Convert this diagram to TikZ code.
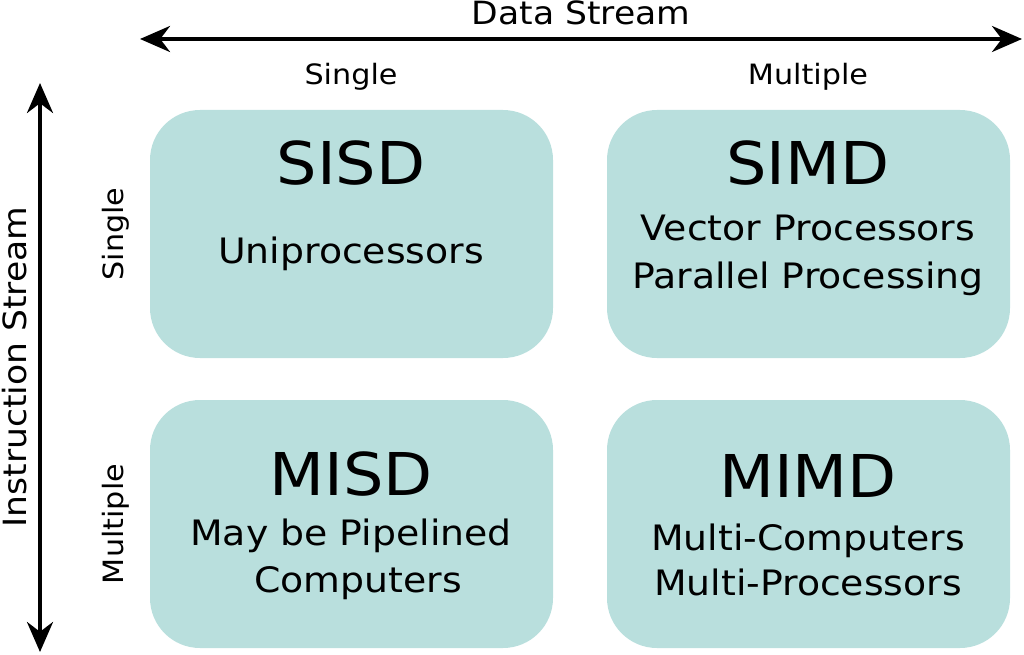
\documentclass[tikz,border=0pt]{standalone}
\usepackage{fontspec}
\setmainfont{DejaVu Sans}[FakeStretch=1.08]
\usetikzlibrary{arrows.meta}
\definecolor{boxfill}{RGB}{185,223,221}
\tikzset{
  quad/.style={fill=boxfill, draw=none, rounded corners=50pt},
  axis/.style={line width=4pt, {Stealth[length=30pt,width=26pt]}-{Stealth[length=30pt,width=26pt]}},
  axlabel/.style={font=\fontsize{32}{38}\selectfont, inner sep=0pt, anchor=base},
  sidelabel/.style={font=\fontsize{28}{33}\selectfont, inner sep=0pt, anchor=base},
  title/.style={font=\fontsize{59}{70}\selectfont, inner sep=0pt, anchor=base},
  desc/.style={font=\fontsize{35}{40}\selectfont, inner sep=0pt, anchor=base},
}
\begin{document}
\begin{tikzpicture}[x=1pt,y=-1pt]
\useasboundingbox (0,0) rectangle (1024,655);
% boxes
\fill[quad] (150,110) rectangle (553,358);
\fill[quad] (607,110) rectangle (1010,358);
\fill[quad] (150,400) rectangle (553,648);
\fill[quad] (607,400) rectangle (1010,648);
% axes
\coordinate (dl) at (140,39);
\coordinate (dr) at (1022,39);
\coordinate (it) at (40,83);
\coordinate (ib) at (40,652);
\draw[axis] (dl) -- (dr);
\draw[axis] (it) -- (ib);
\node[axlabel] (ds) at (581,25) {Data Stream};
\node[axlabel, rotate=90] (is) at (26,367) {Instruction Stream};
\node[sidelabel] (ts) at (351,85) {Single};
\node[sidelabel] (tm) at (808,85) {Multiple};
\node[sidelabel, rotate=90] (ls) at (123,234) {Single};
\node[sidelabel, rotate=90] (lm) at (123,524) {Multiple};
% texts
\node[title] (sisd) at (351,185) {SISD};
\node[desc] (uni) at (351,263) {Uniprocessors};
\node[title] (simd) at (808,185) {SIMD};
\node[desc] (vec) at (808,240) {Vector Processors};
\node[desc] (par) at (808,288) {Parallel Processing};
\node[title] (misd) at (351,495) {MISD};
\node[desc] (may) at (351,545) {May be Pipelined};
\node[desc] (comp) at (358,592) {Computers};
\node[title] (mimd) at (808,497) {MIMD};
\node[desc] (mc) at (808,550) {Multi-Computers};
\node[desc] (mp) at (808,595) {Multi-Processors};
\end{tikzpicture}
\end{document}
